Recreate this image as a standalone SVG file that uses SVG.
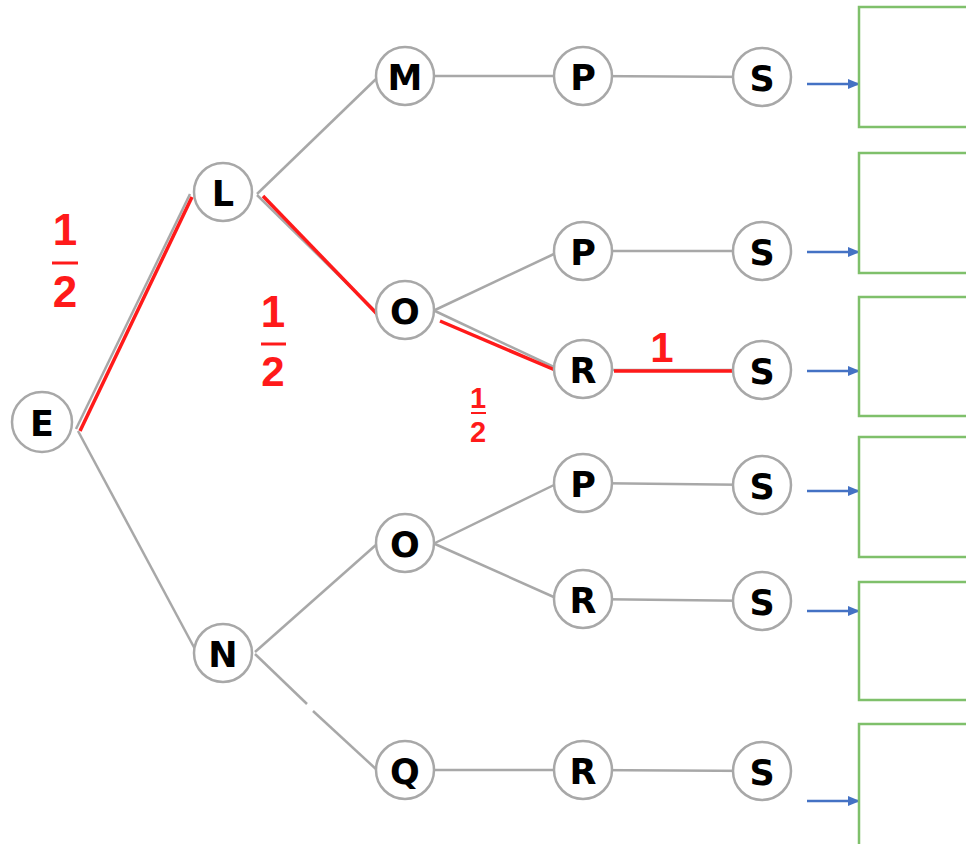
<svg xmlns="http://www.w3.org/2000/svg" width="966" height="844" viewBox="0 0 966 844">
<style>
.edge{stroke:#a8a8a8;stroke-width:2.5;fill:none}
.red{stroke:#ff1a1a;stroke-width:3.5;fill:none}
.node circle{fill:#fff;stroke:#a8a8a8;stroke-width:2.5}
.node text{font-family:"DejaVu Sans",Verdana,sans-serif;font-weight:bold;font-size:35px;fill:#000;text-anchor:middle;dominant-baseline:central}
.box{fill:#fff;stroke:#7fc06b;stroke-width:2.5}
.arr{stroke:#4472c4;stroke-width:2.5;fill:none;marker-end:url(#ah)}
.frac{font-family:"Liberation Sans",Arial,sans-serif;font-weight:bold;fill:#ff1a1a;text-anchor:middle}
</style>
<defs>
<marker id="ah" markerWidth="12" markerHeight="10" refX="11" refY="5" orient="auto" markerUnits="userSpaceOnUse">
<path d="M0,0 L12,5 L0,10 Z" fill="#4472c4"/>
</marker>
</defs>
<rect width="966" height="844" fill="#fff"/>
<g id="connectors">
<line class="edge" x1="76" y1="429" x2="190" y2="194"/>
<line class="edge" x1="78" y1="431" x2="196" y2="651"/>
<line class="edge" x1="257" y1="194" x2="376" y2="79"/>
<line class="edge" x1="257" y1="195" x2="378" y2="314"/>
<line class="edge" x1="255" y1="652" x2="377" y2="544"/>
<line class="edge" x1="255" y1="654" x2="307" y2="704"/>
<line class="edge" x1="313" y1="711" x2="377" y2="770"/>
<line class="edge" x1="405" y1="76" x2="583" y2="76"/>
<line class="edge" x1="435" y1="310" x2="556" y2="253"/>
<line class="edge" x1="435" y1="311" x2="556" y2="368"/>
<line class="edge" x1="435" y1="543" x2="556" y2="484"/>
<line class="edge" x1="435" y1="544" x2="556" y2="598"/>
<line class="edge" x1="405" y1="770" x2="583" y2="770"/>
<line class="edge" x1="583" y1="76" x2="762" y2="77"/>
<line class="edge" x1="583" y1="251" x2="762" y2="251"/>
<line class="edge" x1="583" y1="370" x2="762" y2="370"/>
<line class="edge" x1="583" y1="483" x2="762" y2="485"/>
<line class="edge" x1="583" y1="599" x2="762" y2="601"/>
<line class="edge" x1="583" y1="770" x2="762" y2="771"/>
<line class="red" x1="80" y1="431" x2="192" y2="197"/>
<line class="red" x1="263" y1="196" x2="378" y2="315"/>
<line class="red" x1="440" y1="321" x2="555" y2="370"/>
<line class="red" x1="614" y1="371" x2="735" y2="371"/>
<line class="arr" x1="807" y1="84" x2="859" y2="84"/>
<line class="arr" x1="807" y1="252" x2="859" y2="252"/>
<line class="arr" x1="807" y1="371" x2="859" y2="371"/>
<line class="arr" x1="807" y1="491" x2="859" y2="491"/>
<line class="arr" x1="807" y1="611" x2="859" y2="611"/>
<line class="arr" x1="807" y1="801" x2="859" y2="801"/>
</g>
<g id="node-E" class="node"><circle cx="42" cy="422" r="30"/><text x="42" y="424">E</text></g>
<g id="node-L" class="node"><circle cx="223" cy="192" r="29"/><text x="223" y="194">L</text></g>
<g id="node-N" class="node"><circle cx="223" cy="653" r="29"/><text x="223" y="655">N</text></g>
<g id="node-M" class="node"><circle cx="405" cy="76" r="29"/><text x="405" y="78">M</text></g>
<g id="node-O1" class="node"><circle cx="405" cy="310" r="29"/><text x="405" y="312">O</text></g>
<g id="node-O2" class="node"><circle cx="405" cy="543" r="29"/><text x="405" y="545">O</text></g>
<g id="node-Q" class="node"><circle cx="405" cy="770" r="29"/><text x="405" y="772">Q</text></g>
<g id="node-P1" class="node"><circle cx="583" cy="76" r="29"/><text x="583" y="78">P</text></g>
<g id="node-P2" class="node"><circle cx="583" cy="251" r="29"/><text x="583" y="253">P</text></g>
<g id="node-R1" class="node"><circle cx="583" cy="369" r="29"/><text x="583" y="371">R</text></g>
<g id="node-P3" class="node"><circle cx="583" cy="483" r="29"/><text x="583" y="485">P</text></g>
<g id="node-R2" class="node"><circle cx="583" cy="599" r="29"/><text x="583" y="601">R</text></g>
<g id="node-R3" class="node"><circle cx="583" cy="770" r="29"/><text x="583" y="772">R</text></g>
<g id="node-S1" class="node"><circle cx="762" cy="77" r="29"/><text x="762" y="79">S</text></g>
<g id="node-S2" class="node"><circle cx="762" cy="251" r="29"/><text x="762" y="253">S</text></g>
<g id="node-S3" class="node"><circle cx="762" cy="370" r="29"/><text x="762" y="372">S</text></g>
<g id="node-S4" class="node"><circle cx="762" cy="485" r="29"/><text x="762" y="487">S</text></g>
<g id="node-S5" class="node"><circle cx="762" cy="601" r="29"/><text x="762" y="603">S</text></g>
<g id="node-S6" class="node"><circle cx="762" cy="771" r="29"/><text x="762" y="773">S</text></g>
<g id="boxes">
<rect class="box" x="859" y="7" width="120" height="120"/>
<rect class="box" x="859" y="153" width="120" height="120"/>
<rect class="box" x="859" y="297" width="120" height="119"/>
<rect class="box" x="859" y="437" width="120" height="120"/>
<rect class="box" x="859" y="582" width="120" height="118"/>
<rect class="box" x="859" y="724" width="120" height="130"/>
</g>
<g id="labels">
<text class="frac" x="65" y="245" font-size="44">1</text>
<line x1="52" y1="263" x2="78" y2="263" stroke="#ff1a1a" stroke-width="3"/>
<text class="frac" x="65" y="307" font-size="44">2</text>
<text class="frac" x="273" y="327" font-size="44">1</text>
<line x1="261" y1="344" x2="286" y2="344" stroke="#ff1a1a" stroke-width="3"/>
<text class="frac" x="273" y="386" font-size="42">2</text>
<text class="frac" x="478" y="408" font-size="29">1</text>
<line x1="471" y1="413" x2="486" y2="413" stroke="#ff1a1a" stroke-width="2"/>
<text class="frac" x="478" y="442" font-size="29">2</text>
<text class="frac" x="662" y="362" font-size="42">1</text>
</g>
</svg>
